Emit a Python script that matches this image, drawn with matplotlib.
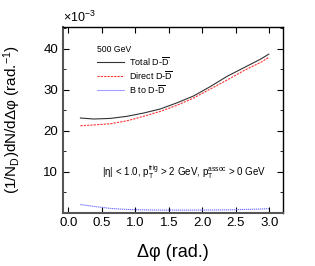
import matplotlib
matplotlib.use("Agg")
import matplotlib.pyplot as plt
from matplotlib.ticker import MultipleLocator

plt.rcParams['font.family'] = ['Liberation Sans', 'DejaVu Sans']
plt.rcParams['mathtext.fontset'] = 'custom'
plt.rcParams['mathtext.rm'] = 'Liberation Sans'
plt.rcParams['mathtext.it'] = 'Liberation Sans:italic'
plt.rcParams['mathtext.sf'] = 'Liberation Sans'

# Data (units of 1e-3)
dphi = [0.18, 0.38, 0.63, 0.87, 1.12, 1.37, 1.62, 1.87, 2.12, 2.37, 2.62, 2.87, 2.99]
total_dd = [23.1, 22.85, 23.0, 23.5, 24.3, 25.3, 26.8, 28.5, 30.8, 33.3, 35.4, 37.5, 38.7]
direct_dd = [21.2, 21.4, 21.7, 22.4, 23.5, 24.7, 26.2, 28.0, 30.2, 32.4, 34.7, 36.7, 37.9]
b_to_dd = [1.95, 1.5, 1.0, 0.75, 0.65, 0.6, 0.6, 0.6, 0.62, 0.65, 0.75, 0.85, 0.95]

labels = ['Total D-$\\overline{\\rm D}$', 'Direct D-$\\overline{\\rm D}$', 'B to D-$\\overline{\\rm D}$']

fig = plt.figure(figsize=(3.15, 2.66), dpi=100)
ax = fig.add_axes([0.2, 0.201, 0.698, 0.697])

ax.plot(dphi, total_dd, color='#333333', lw=0.8, ls='-', label=labels[0])
ax.plot(dphi, direct_dd, color='#ff3333', lw=0.8, ls=(0, (2, 1)), label=labels[1])
ax.plot(dphi, b_to_dd, color='#5555ff', lw=0.8, ls=(0, (1, 0.8)), label=labels[2])

ax.set_xlim(-0.08, 3.2)
ax.set_ylim(0, 45.3)
ax.xaxis.set_major_locator(MultipleLocator(0.5))
ax.yaxis.set_major_locator(MultipleLocator(10))
ax.yaxis.set_minor_locator(MultipleLocator(5))
ax.tick_params(which='both', direction='in', top=True, right=True, labelsize=9.5)
ax.tick_params(which='major', length=4, width=0.8)
ax.tick_params(which='minor', length=2, width=0.6)
ax.set_yticks([10, 20, 30, 40])
ax.set_yticklabels(['10', '20', '30', '40'])

for s in ['left', 'bottom']:
    ax.spines[s].set_color('#555555')
    ax.spines[s].set_linewidth(1.5)
for s in ['top', 'right']:
    ax.spines[s].set_color('black')
    ax.spines[s].set_linewidth(1.0)

ax.set_xlabel('Δφ (rad.)', fontsize=13)
ax.set_ylabel('(1/N$_{\\rm D}$)dN/dΔφ (rad.$^{-1}$)', fontsize=11)
ax.xaxis.set_label_coords(0.5, -0.17)
ax.yaxis.set_label_coords(-0.18, 0.5)

ax.text(0.0, 1.01, '$\\times$10$^{-3}$', transform=ax.transAxes, fontsize=9, ha='left', va='bottom')

leg = ax.legend(loc='upper left', bbox_to_anchor=(0.14, 0.925), frameon=False,
                fontsize=6.5, title='500 GeV', title_fontsize=6.2, handlelength=3.0,
                handletextpad=0.5, labelspacing=0.12, alignment='left', borderaxespad=0)

ax.text(0.5, 9.8, '|η| < 1.0, p$_{\\rm T}^{\\rm trig}$ > 2 GeV, p$_{\\rm T}^{\\rm assoc}$ > 0 GeV',
        fontsize=7.0, ha='left', va='center')

fig.savefig('out.png', dpi=100)
